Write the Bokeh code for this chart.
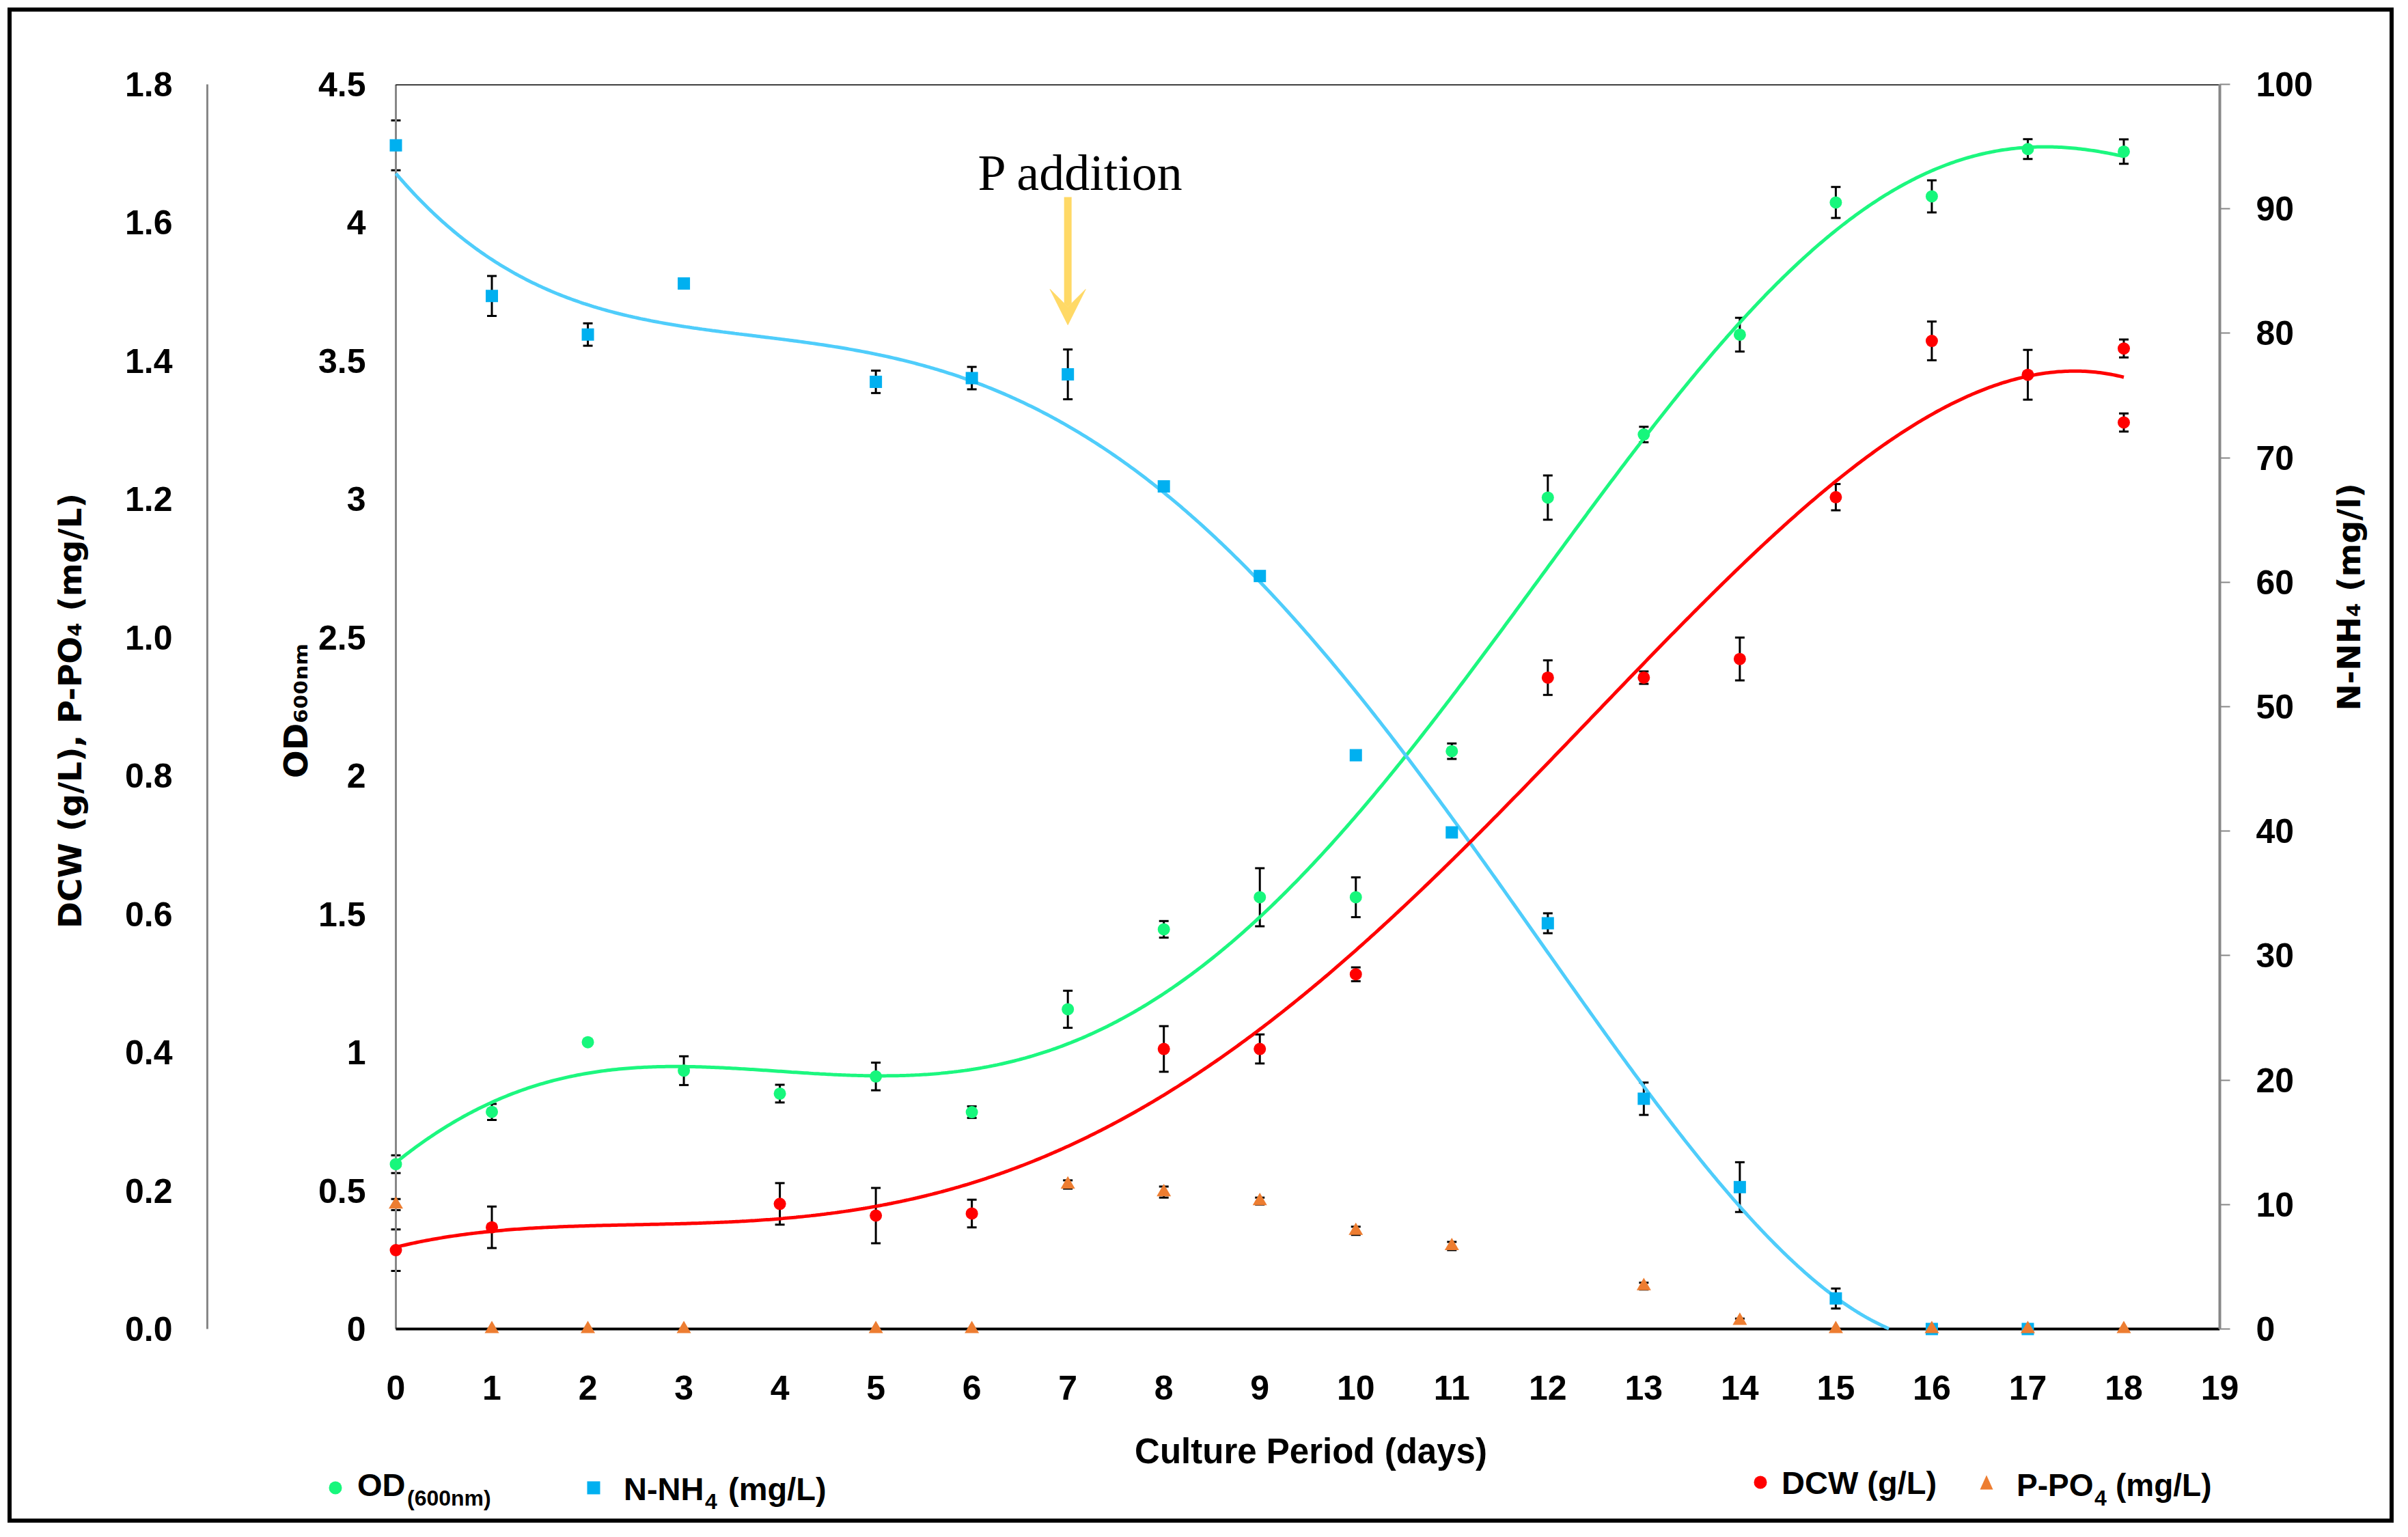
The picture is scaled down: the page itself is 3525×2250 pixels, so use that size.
import numpy as np
from bokeh.plotting import figure
from bokeh.layouts import column
from bokeh.models import (Range1d, LinearAxis, FixedTicker, NumeralTickFormatter, Whisker,
                          TeeHead, ColumnDataSource, Label, Arrow, VeeHead, Div)
from bokeh.embed import file_html
from bokeh.resources import INLINE

# ---------------- data ----------------
od_days = [0, 1, 2, 3, 4, 5, 6, 7, 8, 9, 10, 11, 12, 13, 14, 15, 16, 17, 18]
od_values = [0.596, 0.785, 1.037, 0.934, 0.851, 0.913, 0.784, 1.156, 1.445, 1.561,
             1.561, 2.089, 3.006, 3.234, 3.595, 4.073, 4.095, 4.266, 4.257]
od_errors = [0.032, 0.029, 0.0, 0.052, 0.032, 0.050, 0.021, 0.067, 0.030, 0.105,
             0.072, 0.028, 0.080, 0.028, 0.061, 0.056, 0.058, 0.036, 0.044]

nh4_days = [0, 1, 2, 3, 5, 6, 7, 8, 9, 10, 11, 12, 13, 14, 15, 16, 17]
nh4_values = [95.1, 83.0, 79.9, 84.0, 76.1, 76.4, 76.7, 67.7, 60.5, 46.1,
              39.9, 32.6, 18.5, 11.4, 2.45, 0.0, 0.0]
nh4_errors = [2.0, 1.6, 0.9, 0.0, 0.9, 0.9, 2.0, 0.0, 0.0, 0.0,
              0.0, 0.8, 1.3, 2.0, 0.8, 0.0, 0.0]

dcw_days = [0, 1, 4, 5, 6, 8, 9, 10, 12, 13, 14, 15, 16, 17, 18, 18]
dcw_values = [0.114, 0.147, 0.181, 0.164, 0.167, 0.405, 0.405, 0.513, 0.942, 0.942,
              0.969, 1.203, 1.429, 1.380, 1.418, 1.311]
dcw_errors = [0.030, 0.030, 0.030, 0.040, 0.020, 0.033, 0.021, 0.010, 0.025, 0.009,
              0.031, 0.019, 0.028, 0.036, 0.013, 0.013]

po4_days = [0, 1, 2, 3, 5, 6, 7, 8, 9, 10, 11, 13, 14, 15, 16, 17, 18]
po4_values = [0.180, 0.0, 0.0, 0.0, 0.0, 0.0, 0.209, 0.198, 0.185, 0.142,
              0.120, 0.062, 0.012, 0.0, 0.0, 0.0, 0.0]
po4_errors = [0.008, 0.0, 0.0, 0.0, 0.0, 0.0, 0.006, 0.008, 0.005, 0.006,
              0.006, 0.005, 0.003, 0.0, 0.0, 0.0, 0.0]

x_ticks = list(range(0, 20))
od_ticks = [0, 0.5, 1, 1.5, 2, 2.5, 3, 3.5, 4, 4.5]
dcw_ticks = [0.0, 0.2, 0.4, 0.6, 0.8, 1.0, 1.2, 1.4, 1.6, 1.8]
nh4_ticks = [0, 10, 20, 30, 40, 50, 60, 70, 80, 90, 100]

x_title = "Culture Period (days)"
od_title = "OD\u2086\u2080\u2080\u2099\u2098"
dcw_title = "DCW (g/L), P-PO\u2084 (mg/L)"
nh4_title = "N-NH\u2084 (mg/l)"
# legend entries: (main text, subscript, text after subscript)
legend_entries = [("OD", "(600nm)", ""), ("N-NH", "4", "(mg/L)"),
                  ("DCW (g/L)", "", ""), ("P-PO", "4", "(mg/L)")]

od_trend_degree = 6
nh4_trend_degree = 4
dcw_trend_degree = 4
p_addition_day = 7

# ---------------- styles ----------------
GREEN = "#17F77C"
GREEN_LINE = "#1CF77F"
BLUE = "#00B0F0"
BLUE_LINE = "#4FCDFB"
RED = "#FF0000"
ORANGE = "#ED7D31"
ARROW_C = "#FFD966"
GREY = "#878787"
SANS = "Liberation Sans"
TITLE_FONT = "DejaVu Sans"
SERIF = "Liberation Serif"
TICK_SIZE = "50px"

# ---------------- layout (page pixels) ----------------
FIG_W = 3505
MAIN_H = 2082            # chart figure: page y 8 .. 2090
STRIP_H = 148            # x title + legend strip: page y 2090 .. 2238
PAGE_OFF = 8
X0_PX, X19_PX = 587, 3257
Y0_PX, YTOP_PX = 1953, 131
PAD = 12
X_MAX, OD_MAX, DCW_MAX, N_MAX = 19, 4.5, 1.8, 100

px_per_day = (X19_PX - X0_PX) / X_MAX


def make_range(vmax):
    ppu = (Y0_PX - YTOP_PX) / vmax
    return Range1d(-PAD / ppu, vmax)


def dx(px):
    return (px - X0_PX) / px_per_day


def dy(py):
    return (Y0_PX - py) * OD_MAX / (Y0_PX - YTOP_PX)


frame_left = X0_PX - PAD - PAGE_OFF
frame_top = YTOP_PX - PAGE_OFF
frame_w = X19_PX - (X0_PX - PAD)
frame_h = Y0_PX + PAD - YTOP_PX

p = figure(width=FIG_W, height=MAIN_H,
           x_range=Range1d(-PAD / px_per_day, X_MAX), y_range=make_range(OD_MAX),
           output_backend="svg", toolbar_location=None,
           min_border_left=frame_left, min_border_top=frame_top,
           min_border_right=FIG_W - frame_left - frame_w,
           min_border_bottom=MAIN_H - frame_top - frame_h)
p.extra_y_ranges = {"dcw": make_range(DCW_MAX), "nh4": make_range(N_MAX)}
p.grid.visible = False
p.outline_line_color = None
p.border_fill_color = None
p.background_fill_color = "white"


def style_labels(ax, size=TICK_SIZE):
    ax.major_label_text_font = SANS
    ax.major_label_text_font_style = "bold"
    ax.major_label_text_font_size = size
    ax.major_label_text_color = "black"
    ax.minor_tick_line_color = None
    ax.major_tick_in = 0


def style_title(ax, size, font=TITLE_FONT):
    ax.axis_label_text_font = font
    ax.axis_label_text_font_style = "bold"
    ax.axis_label_text_font_size = size
    ax.axis_label_text_color = "black"


# x axis
xa = p.xaxis[0]
xa.ticker = FixedTicker(ticks=x_ticks)
xa.axis_line_color = None
xa.major_tick_line_color = None
xa.major_tick_out = 0
xa.major_label_standoff = 56
style_labels(xa)

# OD axis (inner left)
ya = p.yaxis[0]
ya.ticker = FixedTicker(ticks=od_ticks)
ya.formatter = NumeralTickFormatter(format="0.[0]")
ya.axis_line_color = None
ya.major_tick_line_color = None
ya.major_tick_out = 0
ya.major_label_standoff = 32
style_labels(ya)
ya.axis_label = od_title
style_title(ya, "48px")
ya.axis_label_standoff = 2

# empty spacer axis between the two left axes
sp = LinearAxis(y_range_name="dcw", ticker=FixedTicker(ticks=[]))
sp.axis_line_color = None
sp.major_tick_line_color = None
sp.minor_tick_line_color = None
sp.major_tick_out = 0
sp.major_tick_in = 0
sp.major_label_standoff = 0
sp.axis_label = " "
sp.axis_label_text_font_size = "10px"
sp.axis_label_standoff = 84
p.add_layout(sp, "left")

# DCW / P-PO4 axis (outer left)
da = LinearAxis(y_range_name="dcw", bounds=(0, DCW_MAX),
                ticker=FixedTicker(ticks=dcw_ticks),
                formatter=NumeralTickFormatter(format="0.0"))
da.axis_line_color = GREY
da.axis_line_width = 3
da.major_tick_line_color = None
da.major_tick_out = 0
da.major_label_standoff = 51
style_labels(da)
da.axis_label = dcw_title
style_title(da, "47px")
da.axis_label_standoff = 50
p.add_layout(da, "left")

# N-NH4 axis (right)
na = LinearAxis(y_range_name="nh4", bounds=(0, N_MAX),
                ticker=FixedTicker(ticks=nh4_ticks),
                formatter=NumeralTickFormatter(format="0"))
na.axis_line_color = GREY
na.axis_line_width = 4
na.major_tick_line_color = GREY
na.major_tick_line_width = 2
na.major_tick_out = 15
na.major_label_standoff = 38
style_labels(na)
na.axis_label = nh4_title
style_title(na, "47px")
na.axis_label_standoff = 50
try:
    na.axis_label_orientation = np.pi / 2
except Exception:
    pass
p.add_layout(na, "right")

# axis lines through the origin and frame top
p.segment(x0=[0], y0=[0], x1=[0], y1=[OD_MAX], line_color=GREY, line_width=3)
p.segment(x0=[0], y0=[0], x1=[X_MAX], y1=[0], line_color="black", line_width=4)
p.segment(x0=[0], y0=[OD_MAX], x1=[X_MAX], y1=[OD_MAX], line_color="black", line_width=3)


# ---------------- error bars ----------------
def whiskers(xs, ys, errs, range_name="default"):
    keep = [i for i, e in enumerate(errs) if e > 0]
    src = ColumnDataSource(dict(
        x=[xs[i] for i in keep],
        lo=[ys[i] - errs[i] for i in keep],
        hi=[ys[i] + errs[i] for i in keep]))
    w = Whisker(base="x", lower="lo", upper="hi", source=src,
                line_color="black", line_width=3, level="underlay",
                upper_head=TeeHead(size=14, line_width=3, line_color="black"),
                lower_head=TeeHead(size=14, line_width=3, line_color="black"))
    w.y_range_name = range_name
    p.add_layout(w)


whiskers(od_days, od_values, od_errors)
whiskers(nh4_days, nh4_values, nh4_errors, "nh4")
whiskers(dcw_days, dcw_values, dcw_errors, "dcw")
whiskers(po4_days, po4_values, po4_errors, "dcw")


# ---------------- polynomial trendlines (cut where they leave the axis at 0) ----------------
def trend(xs, ys, deg):
    c = np.polyfit(np.array(xs, float), np.array(ys, float), deg)
    xx = np.linspace(min(xs), max(xs), 800)
    yy = np.polyval(c, xx)
    neg = np.nonzero(yy < 0)[0]
    if len(neg):
        yy[neg[0]:] = np.nan
    return xx, yy


tx, ty = trend(od_days, od_values, od_trend_degree)
p.line(tx, ty, line_color=GREEN_LINE, line_width=5)
tx, ty = trend(nh4_days, nh4_values, nh4_trend_degree)
p.line(tx, ty, line_color=BLUE_LINE, line_width=5, y_range_name="nh4")
tx, ty = trend(dcw_days, dcw_values, dcw_trend_degree)
p.line(tx, ty, line_color=RED, line_width=5, y_range_name="dcw")

# ---------------- markers ----------------
p.scatter(od_days, od_values, marker="circle", size=18, fill_color=GREEN, line_color=None)
p.scatter(nh4_days, nh4_values, marker="square", size=18, fill_color=BLUE,
          line_color=None, y_range_name="nh4")
p.scatter(dcw_days, dcw_values, marker="circle", size=18, fill_color=RED,
          line_color=None, y_range_name="dcw")
p.scatter(po4_days, po4_values, marker="triangle", size=21, fill_color=ORANGE,
          line_color=None, y_range_name="dcw")

# ---------------- annotation: P addition ----------------
p.add_layout(Arrow(x_start=p_addition_day, y_start=dy(296), x_end=p_addition_day, y_end=dy(483),
                   line_color=ARROW_C, line_width=11,
                   end=VeeHead(size=52, fill_color=ARROW_C, line_color=ARROW_C)))
p.add_layout(Label(x=dx(1590), y=dy(260), text="P addition", text_font=SERIF,
                   text_font_size="74px", text_align="center", text_baseline="alphabetic",
                   text_color="black"))

# ---------------- strip below the chart: x-axis title and legend ----------------
strip_top = PAGE_OFF + MAIN_H


def sx(px):
    return px - PAGE_OFF


def sy(py):
    return py - strip_top


def svg_text(x, y, text, size, anchor="start"):
    return (f'<text x="{sx(x):.1f}" y="{sy(y):.1f}" font-size="{size}" '
            f'text-anchor="{anchor}">{text}</text>')


def svg_tri(cx, cy, w, h, color):
    pts = f"{sx(cx) - w / 2:.1f},{sy(cy) + h / 2:.1f} {sx(cx) + w / 2:.1f},{sy(cy) + h / 2:.1f} " \
          f"{sx(cx):.1f},{sy(cy) - h / 2:.1f}"
    return f'<polygon points="{pts}" fill="{color}"/>'


parts = [
    svg_text((X0_PX + X19_PX) / 2, 2145, x_title, 51, "middle"),
    # OD(600nm)
    f'<circle cx="{sx(494)}" cy="{sy(2181)}" r="9.5" fill="{GREEN}"/>',
    svg_text(526, 2193, legend_entries[0][0], 47),
    svg_text(599, 2207, legend_entries[0][1], 32),
    # N-NH4 (mg/L)
    f'<rect x="{sx(872) - 9.5}" y="{sy(2181) - 9.5}" width="19" height="19" fill="{BLUE}"/>',
    svg_text(916, 2199, legend_entries[1][0], 47),
    svg_text(1035, 2212, legend_entries[1][1], 32),
    svg_text(1069, 2199, legend_entries[1][2], 47),
    # DCW (g/L)
    f'<circle cx="{sx(2580)}" cy="{sy(2173)}" r="9.5" fill="{RED}"/>',
    svg_text(2611, 2190, legend_entries[2][0], 47),
    # P-PO4 (mg/L)
    svg_tri(2911, 2173, 19, 21, ORANGE),
    svg_text(2955, 2193, legend_entries[3][0], 46),
    svg_text(3069, 2207, legend_entries[3][1], 32),
    svg_text(3100, 2193, legend_entries[3][2], 46),
]
svg = (f'<svg xmlns="http://www.w3.org/2000/svg" width="{FIG_W}" height="{STRIP_H}" '
       f'style="display:block;overflow:visible">'
       f'<g font-family="{SANS}" font-weight="bold" fill="black">' + "".join(parts) +
       '</g></svg>')
strip = Div(text=svg, width=FIG_W, height=STRIP_H)

layout = column(p, strip, spacing=0)
layout.styles = {"outline": "6px solid black", "outline-offset": "-17px"}

open("out.html", "w").write(file_html(layout, INLINE))
